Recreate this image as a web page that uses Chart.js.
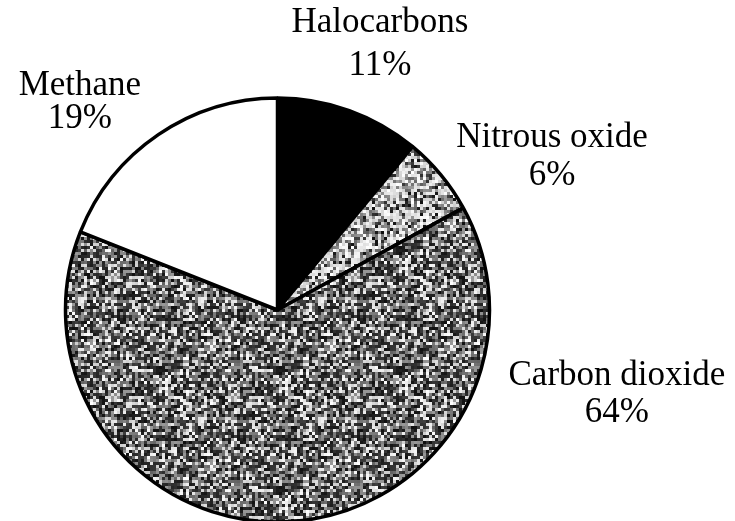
<!DOCTYPE html>
<html>
<head>
<meta charset="utf-8">
<script src="https://cdn.jsdelivr.net/npm/chart.js@4"></script>
<style>
  html, body { margin: 0; padding: 0; background: #fff; }
  #wrap { width: 735px; height: 521px; position: relative; }
</style>
</head>
<body>
<div id="wrap"><canvas id="grafico"></canvas></div>
<script>
// greenhouse gas shares, clockwise from 12 o'clock
const gases = ["Halocarbons", "Nitrous oxide", "Carbon dioxide", "Methane"];
const shares = [11, 6, 64, 19];
const shareLabels = ["11%", "6%", "64%", "19%"];

const labelFont = '35px "Liberation Serif", "DejaVu Serif", serif';

// speckled print texture (seeded so every run looks the same)
function speckle(dark, mid, seed) {
  const c = document.createElement("canvas");
  c.width = 120; c.height = 120;
  const g = c.getContext("2d");
  let s = seed;
  const rnd = () => { s = (s * 1103515245 + 12345) & 0x7fffffff; return s / 0x7fffffff; };
  for (let y = 0; y < 120; y += 3) {
    for (let x = 0; x < 120; x += 3) {
      const r = rnd();
      let v;
      if (r < dark) v = 15 + rnd() * 50;
      else if (r < dark + mid) v = 95 + rnd() * 60;
      else v = 205 + rnd() * 50;
      v = Math.round(v);
      g.fillStyle = `rgb(${v},${v},${v})`;
      g.fillRect(x, y, 3 + Math.round(rnd()), 3);
    }
  }
  return g.createPattern(c, "repeat");
}

// label anchors relative to pie centre, in radius units, plus line gap in px
const labelPlace = [
  [0.483, -1.311, 43],
  [1.295, -0.769, 38],
  [1.601, 0.354, 37],
  [-0.932, -1.014, 33]
];

const etiquetas = {
  id: "etiquetas",
  afterDatasetsDraw(chart) {
    const c = chart.ctx;
    const arcs = chart.getDatasetMeta(0).data;
    c.save();
    c.font = labelFont;
    c.fillStyle = "#000";
    c.textAlign = "center";
    c.textBaseline = "alphabetic";
    arcs.forEach((arc, i) => {
      const [ux, uy, gap] = labelPlace[i];
      const x = arc.x + ux * arc.outerRadius;
      const y = arc.y + uy * arc.outerRadius;
      c.fillText(gases[i], x, y);
      c.fillText(shareLabels[i], x, y + gap);
    });
    c.restore();
  }
};

const ctx = document.getElementById("grafico").getContext("2d");
const fills = [
  "#000000",
  speckle(0.15, 0.30, 7),
  speckle(0.42, 0.30, 13),
  "#ffffff"
];

new Chart(ctx, {
  type: "pie",
  data: {
    labels: gases,
    datasets: [{
      data: shares,
      backgroundColor: fills,
      borderColor: "#000",
      borderWidth: 3.5,
      radius: 212,
      hoverOffset: 0
    }]
  },
  options: {
    responsive: true,
    maintainAspectRatio: false,
    animation: false,
    layout: { padding: { left: 0, right: 180, top: 99, bottom: 0 } },
    plugins: {
      legend: { display: false },
      tooltip: { enabled: false }
    }
  },
  plugins: [etiquetas]
});
</script>
</body>
</html>
